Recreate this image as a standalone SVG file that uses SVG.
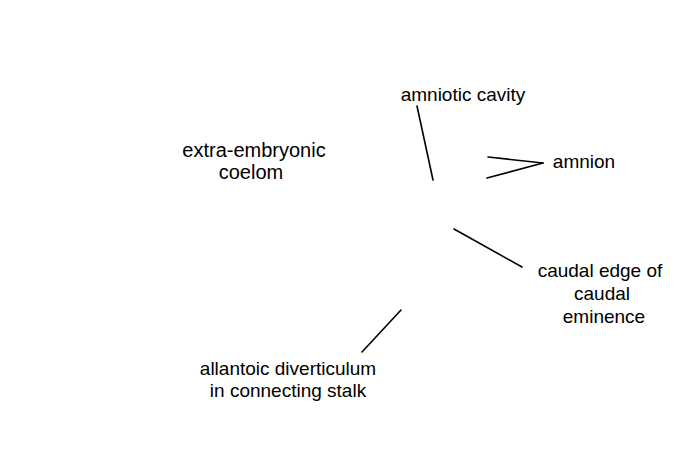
<svg xmlns="http://www.w3.org/2000/svg" width="675" height="450" viewBox="0 0 675 450">
<style>
text{font-family:"Liberation Sans",Arial,sans-serif;font-size:19px;fill:#000;text-anchor:middle}
.big{font-size:20px}
.c line{stroke:#000;stroke-width:1.6;stroke-linecap:round}
</style>
<rect width="675" height="450" fill="#fff"/>
<g class="c" id="connectors">
<line x1="417" y1="106" x2="433" y2="180"/>
<line x1="488" y1="157" x2="543" y2="163"/>
<line x1="487" y1="178" x2="543" y2="163"/>
<line x1="454" y1="229" x2="522" y2="267"/>
<line x1="401" y1="310" x2="362" y2="352"/>
</g>
<g id="amniotic-cavity"><text x="463" y="101">amniotic cavity</text></g>
<g id="amnion"><text x="584" y="168">amnion</text></g>
<g id="extra-embryonic-coelom"><text class="big" x="254" y="157">extra-embryonic</text><text class="big" x="251" y="179">coelom</text></g>
<g id="caudal-edge"><text x="600" y="277">caudal edge of</text><text x="602" y="300">caudal</text><text x="604" y="323">eminence</text></g>
<g id="allantoic"><text x="288" y="375">allantoic diverticulum</text><text x="288" y="397">in connecting stalk</text></g>
</svg>
